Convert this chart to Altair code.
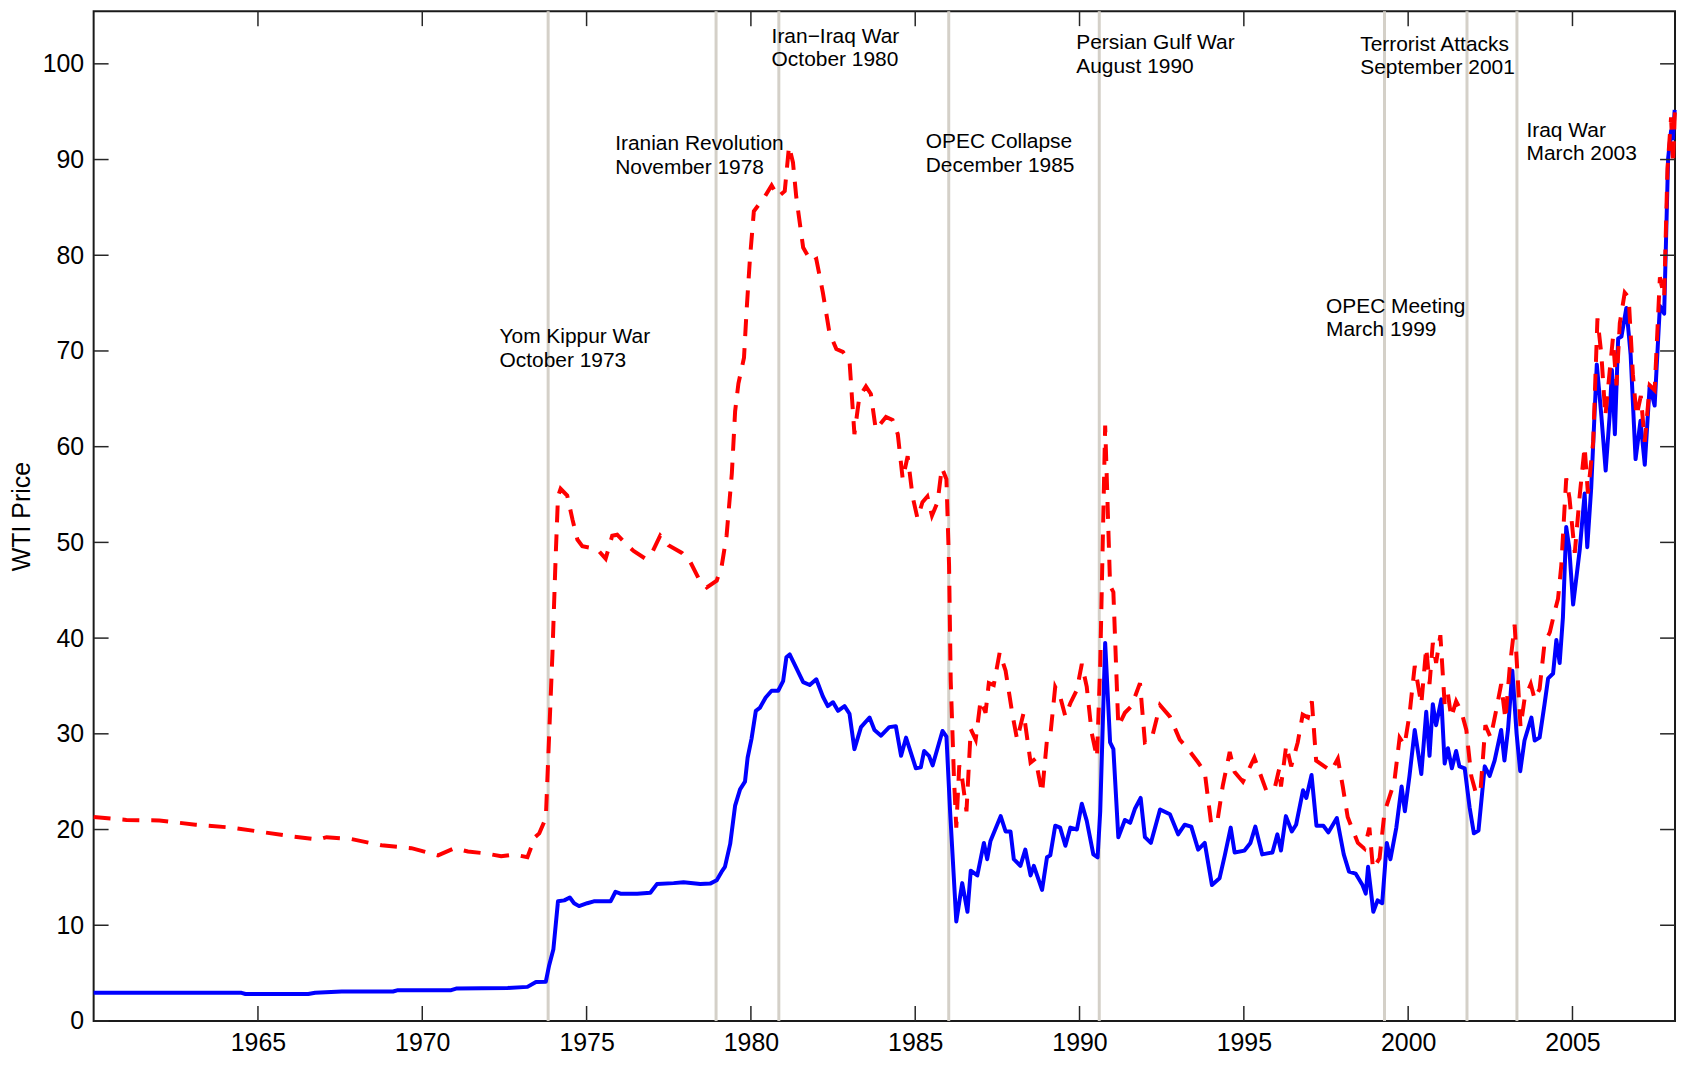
import altair as alt
import pandas as pd

# ---------------- data ----------------
nominal_years = [1960.0, 1962.0, 1964.5, 1964.62, 1966.53, 1966.74, 1967.55, 1969.11, 1969.26, 1970.88,
    1971.03, 1972.6, 1973.2, 1973.46, 1973.76, 1973.86, 1973.99, 1974.13, 1974.32, 1974.49,
    1974.62, 1974.77, 1975.02, 1975.22, 1975.73, 1975.88, 1976.03, 1976.54, 1976.94, 1977.14,
    1977.65, 1977.95, 1978.46, 1978.76, 1978.96, 1979.11, 1979.21, 1979.37, 1979.52, 1979.67,
    1979.82, 1979.9, 1980.02, 1980.15, 1980.27, 1980.45, 1980.63, 1980.83, 1980.98, 1981.08,
    1981.18, 1981.38, 1981.59, 1981.79, 1981.99, 1982.19, 1982.34, 1982.5, 1982.65, 1982.85,
    1983.0, 1983.15, 1983.35, 1983.61, 1983.76, 1983.96, 1984.21, 1984.41, 1984.57, 1984.72,
    1985.02, 1985.17, 1985.27, 1985.42, 1985.53, 1985.83, 1985.95, 1986.06, 1986.25, 1986.43,
    1986.59, 1986.69, 1986.89, 1987.09, 1987.19, 1987.29, 1987.6, 1987.75, 1987.9, 1988.0,
    1988.2, 1988.35, 1988.51, 1988.61, 1988.86, 1989.01, 1989.11, 1989.26, 1989.41, 1989.57,
    1989.72, 1989.92, 1990.07, 1990.22, 1990.42, 1990.55, 1990.63, 1990.78, 1990.93, 1991.03,
    1991.18, 1991.38, 1991.54, 1991.69, 1991.86, 1991.99, 1992.17, 1992.45, 1992.75, 1993.0,
    1993.2, 1993.4, 1993.61, 1993.81, 1994.03, 1994.26, 1994.42, 1994.6, 1994.72, 1995.02,
    1995.2, 1995.35, 1995.56, 1995.87, 1996.02, 1996.13, 1996.28, 1996.46, 1996.59, 1996.8,
    1996.9, 1997.06, 1997.21, 1997.42, 1997.57, 1997.83, 1998.04, 1998.2, 1998.4, 1998.61,
    1998.71, 1998.78, 1998.94, 1999.07, 1999.21, 1999.35, 1999.46, 1999.64, 1999.8, 1999.9,
    2000.04, 2000.2, 2000.4, 2000.55, 2000.65, 2000.75, 2000.85, 2001.01, 2001.11, 2001.21,
    2001.33, 2001.46, 2001.56, 2001.72, 2001.87, 2002.0, 2002.14, 2002.33, 2002.48, 2002.63,
    2002.83, 2002.93, 2003.04, 2003.17, 2003.3, 2003.41, 2003.54, 2003.75, 2003.85, 2004.0,
    2004.15, 2004.26, 2004.41, 2004.51, 2004.61, 2004.71, 2004.81, 2004.9, 2005.02, 2005.22,
    2005.37, 2005.45, 2005.57, 2005.74, 2005.88, 2006.01, 2006.13, 2006.2, 2006.29, 2006.39,
    2006.49, 2006.64, 2006.77, 2006.92, 2007.07, 2007.2, 2007.35, 2007.5, 2007.66, 2007.79,
    2007.91, 2008.0, 2008.06, 2008.11]
nominal_prices = [2.94, 2.94, 2.94, 2.82, 2.82, 2.94, 3.08, 3.08, 3.22, 3.22,
    3.38, 3.45, 3.56, 4.08, 4.1, 5.8, 7.5, 12.5, 12.6, 12.9,
    12.3, 12.0, 12.3, 12.5, 12.5, 13.5, 13.3, 13.3, 13.4, 14.3,
    14.4, 14.5, 14.3, 14.35, 14.7, 15.6, 16.1, 18.5, 22.5, 24.2,
    25.0, 27.5, 29.5, 32.4, 32.7, 33.8, 34.5, 34.5, 35.5, 38.0,
    38.3, 36.9, 35.4, 35.1, 35.7, 33.9, 32.9, 33.3, 32.4, 32.9,
    32.1, 28.4, 30.7, 31.7, 30.4, 29.8, 30.7, 30.8, 27.7, 29.6,
    26.4, 26.5, 28.2, 27.7, 26.7, 30.3, 29.7, 22.0, 10.4, 14.4,
    11.4, 15.7, 15.2, 18.6, 16.9, 18.8, 21.4, 19.8, 19.8, 16.9,
    16.2, 17.9, 15.2, 16.2, 13.7, 17.1, 17.3, 20.4, 20.2, 18.3,
    20.2, 20.0, 22.7, 20.9, 17.4, 17.1, 21.9, 39.5, 29.1, 28.4,
    19.2, 21.0, 20.7, 22.2, 23.3, 19.2, 18.6, 22.1, 21.6, 19.5,
    20.5, 20.3, 17.9, 18.6, 14.2, 14.9, 17.3, 20.2, 17.6, 17.8,
    18.6, 20.3, 17.4, 17.6, 19.5, 17.8, 21.4, 19.8, 20.5, 24.1,
    23.3, 25.7, 20.4, 20.4, 19.7, 21.2, 17.4, 15.6, 15.4, 14.2,
    13.3, 16.1, 11.4, 12.6, 12.3, 18.6, 16.9, 20.2, 24.5, 21.9,
    25.6, 30.4, 25.8, 32.3, 27.7, 33.1, 30.9, 33.6, 26.9, 28.5,
    26.4, 28.2, 26.6, 26.4, 22.3, 19.6, 19.9, 26.6, 25.6, 27.2,
    30.4, 27.2, 30.5, 36.6, 30.0, 26.1, 29.3, 31.7, 29.3, 29.6,
    33.1, 35.8, 36.3, 39.8, 37.4, 42.2, 51.6, 49.5, 43.5, 49.2,
    55.1, 49.5, 55.7, 68.6, 63.2, 57.5, 63.2, 68.0, 61.3, 71.3,
    71.5, 74.5, 69.6, 58.7, 62.7, 58.1, 66.4, 64.3, 74.7, 73.9,
    90.1, 93.0, 92.2, 95.2]

real_years = [1960.0, 1961.0, 1962.0, 1963.1, 1964.2, 1965.2, 1966.1, 1966.84, 1967.09, 1967.85,
    1968.76, 1969.67, 1970.48, 1970.98, 1971.39, 1971.94, 1972.4, 1972.8, 1973.2, 1973.43,
    1973.56, 1973.76, 1973.86, 1973.96, 1974.06, 1974.13, 1974.21, 1974.41, 1974.57, 1974.72,
    1974.87, 1975.32, 1975.58, 1975.78, 1975.93, 1976.18, 1976.43, 1976.79, 1976.99, 1977.24,
    1977.49, 1977.9, 1978.15, 1978.4, 1978.66, 1978.96, 1979.11, 1979.26, 1979.42, 1979.52,
    1979.62, 1979.79, 1979.87, 1979.97, 1980.09, 1980.22, 1980.42, 1980.63, 1980.83, 1981.03,
    1981.16, 1981.28, 1981.38, 1981.59, 1981.84, 1981.99, 1982.19, 1982.39, 1982.6, 1982.8,
    1983.0, 1983.15, 1983.3, 1983.5, 1983.65, 1983.8, 1984.11, 1984.31, 1984.47, 1984.62,
    1984.77, 1984.92, 1985.07, 1985.22, 1985.37, 1985.51, 1985.68, 1985.81, 1985.95, 1986.03,
    1986.08, 1986.18, 1986.25, 1986.34, 1986.43, 1986.56, 1986.69, 1986.84, 1986.99, 1987.14,
    1987.24, 1987.39, 1987.57, 1987.75, 1987.95, 1988.1, 1988.3, 1988.51, 1988.66, 1988.86,
    1989.01, 1989.11, 1989.26, 1989.41, 1989.57, 1989.72, 1989.92, 1990.07, 1990.22, 1990.37,
    1990.53, 1990.63, 1990.78, 1990.93, 1991.03, 1991.18, 1991.38, 1991.58, 1991.84, 1991.99,
    1992.19, 1992.45, 1992.75, 1993.05, 1993.3, 1993.61, 1993.81, 1994.01, 1994.21, 1994.36,
    1994.57, 1994.72, 1994.97, 1995.32, 1995.68, 1995.93, 1996.08, 1996.13, 1996.29, 1996.44,
    1996.64, 1996.79, 1996.95, 1997.07, 1997.2, 1997.45, 1997.66, 1997.86, 1998.01, 1998.16,
    1998.47, 1998.67, 1998.82, 1998.93, 1999.13, 1999.28, 1999.43, 1999.58, 1999.74, 1999.89,
    2000.04, 2000.2, 2000.4, 2000.55, 2000.65, 2000.75, 2000.85, 2000.98, 2001.11, 2001.21,
    2001.31, 2001.46, 2001.62, 2001.77, 2001.92, 2002.07, 2002.2, 2002.35, 2002.51, 2002.68,
    2002.83, 2002.96, 2003.09, 2003.24, 2003.42, 2003.54, 2003.73, 2003.85, 2004.0, 2004.15,
    2004.31, 2004.46, 2004.56, 2004.66, 2004.81, 2004.91, 2005.07, 2005.22, 2005.37, 2005.47,
    2005.63, 2005.76, 2005.88, 2006.0, 2006.13, 2006.23, 2006.34, 2006.44, 2006.59, 2006.71,
    2006.84, 2006.95, 2007.08, 2007.2, 2007.35, 2007.5, 2007.66, 2007.79, 2007.89, 2008.0,
    2008.06, 2008.12]
real_prices = [21.3, 21.0, 20.95, 20.5, 20.2, 19.7, 19.25, 18.95, 19.2, 19.0,
    18.35, 18.05, 17.3, 18.05, 17.7, 17.5, 17.2, 17.4, 17.1, 19.2,
    19.6, 21.2, 29.8, 38.3, 48.6, 54.8, 55.6, 54.9, 52.4, 50.3,
    49.6, 49.3, 48.3, 50.7, 50.8, 49.9, 49.1, 48.3, 48.9, 50.7,
    49.7, 48.9, 48.0, 46.3, 45.3, 46.0, 47.5, 50.7, 57.2, 63.7,
    66.6, 69.3, 74.3, 79.6, 84.6, 85.2, 86.1, 87.3, 86.1, 86.7,
    91.4, 89.7, 86.1, 80.8, 79.3, 79.6, 76.1, 71.9, 70.2, 69.9,
    69.0, 61.3, 65.2, 66.3, 65.5, 61.8, 63.1, 62.8, 61.3, 56.6,
    59.0, 54.8, 52.5, 54.2, 54.8, 52.8, 54.2, 57.8, 56.6, 47.6,
    35.6, 25.3, 20.2, 26.7, 25.3, 21.9, 30.5, 29.4, 33.5, 32.2,
    35.3, 35.1, 38.5, 36.6, 32.2, 29.4, 32.2, 27.0, 27.4, 23.8,
    29.4, 29.8, 34.9, 33.9, 31.8, 33.2, 34.6, 37.3, 34.9, 30.1,
    27.5, 37.3, 62.2, 45.5, 44.8, 30.8, 32.2, 32.9, 35.3, 29.1,
    29.4, 33.0, 31.8, 29.4, 28.4, 27.0, 26.0, 20.5, 21.2, 24.6,
    28.1, 26.0, 25.0, 27.5, 24.1, 24.2, 26.4, 24.5, 28.8, 26.6,
    29.1, 32.0, 31.7, 33.4, 27.2, 26.6, 26.1, 27.4, 24.5, 21.3,
    18.6, 18.0, 20.2, 15.9, 17.0, 21.8, 23.4, 25.0, 29.6, 28.8,
    32.0, 37.1, 33.1, 39.0, 35.2, 39.5, 37.4, 40.3, 33.1, 34.2,
    31.7, 33.4, 32.3, 30.4, 25.6, 23.7, 24.0, 30.9, 29.6, 32.5,
    35.2, 31.5, 36.9, 41.4, 30.7, 33.6, 35.2, 33.6, 34.7, 39.5,
    40.6, 42.8, 44.1, 47.6, 56.7, 54.6, 48.9, 54.9, 60.0, 55.1,
    60.5, 73.4, 69.6, 63.2, 67.8, 71.3, 66.4, 72.9, 76.1, 75.6,
    67.5, 63.2, 65.3, 60.5, 66.4, 65.9, 77.7, 75.6, 89.0, 94.4,
    89.5, 95.4]

event_years = [1973.83, 1978.94, 1980.85, 1986.02, 1990.6, 1999.28, 2001.79, 2003.31]
label_texts = ["Yom Kippur War\nOctober 1973", "Iranian Revolution\nNovember 1978",
               "Iran\u2212Iraq War\nOctober 1980", "OPEC Collapse\nDecember 1985",
               "Persian Gulf War\nAugust 1990", "OPEC Meeting\nMarch 1999",
               "Terrorist Attacks\nSeptember 2001", "Iraq War\nMarch 2003"]
label_x = [1972.35, 1975.87, 1980.63, 1985.32, 1989.9, 1997.5, 1998.54, 2003.6]
label_y = [70.8, 90.95, 102.2, 91.17, 101.5, 73.96, 101.38, 92.4]

x_ticks = [1965, 1970, 1975, 1980, 1985, 1990, 1995, 2000, 2005]
y_ticks = [0, 10, 20, 30, 40, 50, 60, 70, 80, 90, 100]

# ---------------- layout constants ----------------
W, H = 1588, 1014
TICK = 15
FONT = "Liberation Sans"
XDOM = [1960, 2008.12]
YDOM = [0, 105.5]

xs = alt.Scale(domain=XDOM, nice=False, zero=False)
ys = alt.Scale(domain=YDOM, nice=False, zero=False)

nom = pd.DataFrame({"year": nominal_years, "price": nominal_prices})
real = pd.DataFrame({"year": real_years, "price": real_prices})
events = pd.DataFrame({"year": event_years})
labels = pd.DataFrame({"year": label_x, "price": label_y, "text": label_texts})
xt = pd.DataFrame({"year": x_ticks})
yt = pd.DataFrame({"price": y_ticks})

x_axis = alt.Axis(values=x_ticks, format="d", tickSize=0, domain=False, grid=False,
                  labelFontSize=25, labelPadding=10, labelColor="black", labelFont=FONT,
                  labelFlush=False, labelOverlap=False, title=None)
y_axis = alt.Axis(values=y_ticks, format="d", tickSize=0, domain=False, grid=False,
                  labelFontSize=25, labelPadding=10, labelColor="black", labelFont=FONT,
                  labelFlush=False, labelOverlap=False,
                  title="WTI Price", titleFontSize=25, titleFontWeight="normal",
                  titleColor="black", titleFont=FONT, titlePadding=8)

X = alt.X("year:Q", scale=xs, axis=x_axis)
Y = alt.Y("price:Q", scale=ys, axis=y_axis)

event_rules = alt.Chart(events).mark_rule(color="#d4d0c8", strokeWidth=3).encode(x=X)

blue = alt.Chart(nom).mark_line(color="#0000ff", strokeWidth=4, strokeJoin="round").encode(
    x=X, y=Y, order="year:Q")

red = alt.Chart(real).mark_line(color="#ff0000", strokeWidth=4, strokeDash=[17, 12]).encode(
    x=X, y=Y, order="year:Q")

tick_color = "#262626"
bottom_ticks = alt.Chart(xt).mark_rule(color=tick_color, strokeWidth=1.5).encode(
    x=X, y=alt.value(H), y2=alt.value(H - TICK))
top_ticks = alt.Chart(xt).mark_rule(color=tick_color, strokeWidth=1.5).encode(
    x=X, y=alt.value(0), y2=alt.value(TICK))
left_ticks = alt.Chart(yt).mark_rule(color=tick_color, strokeWidth=1.5).encode(
    y=Y, x=alt.value(0), x2=alt.value(TICK))
right_ticks = alt.Chart(yt).mark_rule(color=tick_color, strokeWidth=1.5).encode(
    y=Y, x=alt.value(W), x2=alt.value(W - TICK))

texts = alt.Chart(labels).mark_text(align="left", baseline="alphabetic", fontSize=21,
                                    font=FONT, color="black", lineBreak="\n",
                                    lineHeight=23.4).encode(
    x=X, y=Y, text="text:N")

chart = alt.layer(event_rules, blue, red, bottom_ticks, top_ticks, left_ticks,
                  right_ticks, texts).properties(
    width=W, height=H,
    autosize=alt.AutoSizeParams(type="none"),
    padding={"left": 86, "top": 1, "right": 2, "bottom": 36},
    background="white",
).configure(font=FONT).configure_view(stroke="#1a1a1a", strokeWidth=2)

chart.save("out.html", embed_options={"renderer": "svg", "actions": False})
